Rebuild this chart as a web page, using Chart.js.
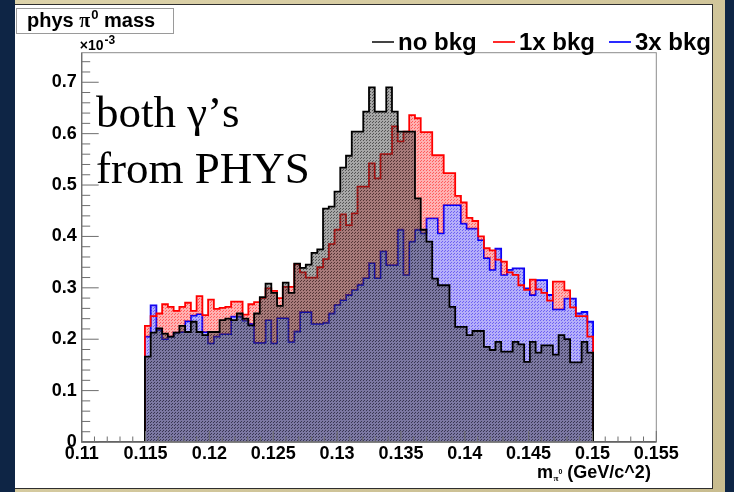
<!DOCTYPE html>
<html>
<head>
<meta charset="utf-8">
<script src="https://cdn.jsdelivr.net/npm/chart.js@4.4.1/dist/chart.umd.min.js"></script>
<style>
  html, body { margin: 0; padding: 0; }
  body { width: 734px; height: 492px; background: #0e2545; position: relative; overflow: hidden; }
  #mat { position: absolute; left: 15px; top: 0; width: 710px; height: 492px; background: linear-gradient(135deg, #ddd3aa, #c8bc8f); }
  #pad { position: absolute; left: 15px; top: 4px; width: 697px; height: 483px; background: #fff; border: 1px solid #2e2e2e; border-left: none; }
  #c { position: absolute; left: 0; top: 0; }
</style>
</head>
<body>
<div id="mat"></div>
<div id="pad"><canvas id="c" width="697" height="483"></canvas></div>
<script>
// pi0 mass histograms: 100 bins over 0.11-0.155 GeV/c^2, contents in units of 1e-3
const binLow = 0.11;
const binWidth = 0.00045;
const firstFilledBin = 11;

const noBkg = [
  0.166, 0.213, 0.221, 0.211, 0.205, 0.213, 0.226, 0.214, 0.234, 0.214,
  0.208, 0.214, 0.214, 0.237, 0.240, 0.237, 0.250, 0.240, 0.227, 0.250,
  0.282, 0.308, 0.290, 0.265, 0.310, 0.290, 0.347, 0.339, 0.345, 0.368,
  0.375, 0.454, 0.458, 0.487, 0.534, 0.557, 0.604, 0.604, 0.643, 0.690,
  0.643, 0.643, 0.690, 0.643, 0.604, 0.604, 0.604, 0.474, 0.413, 0.390,
  0.318, 0.305, 0.305, 0.263, 0.224, 0.224, 0.208, 0.216, 0.216, 0.185,
  0.179, 0.195, 0.176, 0.176, 0.195, 0.190, 0.156, 0.195, 0.174, 0.188,
  0.188, 0.170, 0.208, 0.200, 0.155, 0.155, 0.195, 0.174
];
const bkg1x = [
  0.226, 0.245, 0.250, 0.268, 0.263, 0.255, 0.263, 0.271, 0.255, 0.284,
  0.247, 0.277, 0.259, 0.261, 0.263, 0.273, 0.273, 0.248, 0.268, 0.272,
  0.280, 0.299, 0.294, 0.280, 0.302, 0.302, 0.346, 0.330, 0.320, 0.320,
  0.340, 0.356, 0.385, 0.413, 0.443, 0.422, 0.445, 0.497, 0.497, 0.542,
  0.513, 0.560, 0.560, 0.614, 0.585, 0.604, 0.636, 0.630, 0.603, 0.603,
  0.558, 0.558, 0.523, 0.523, 0.479, 0.466, 0.436, 0.430, 0.400, 0.377,
  0.373, 0.355, 0.351, 0.330, 0.325, 0.305, 0.296, 0.316, 0.297, 0.290,
  0.275, 0.312, 0.312, 0.295, 0.262, 0.245, 0.245, 0.205
];
const bkg3x = [
  0.205, 0.266, 0.218, 0.200, 0.205, 0.213, 0.214, 0.235, 0.246, 0.249,
  0.214, 0.192, 0.205, 0.210, 0.210, 0.244, 0.244, 0.236, 0.230, 0.193,
  0.193, 0.237, 0.192, 0.241, 0.241, 0.195, 0.215, 0.253, 0.253, 0.230,
  0.230, 0.232, 0.250, 0.267, 0.276, 0.286, 0.296, 0.306, 0.319, 0.348,
  0.319, 0.371, 0.344, 0.344, 0.413, 0.325, 0.390, 0.413, 0.406, 0.435,
  0.435, 0.406, 0.461, 0.461, 0.461, 0.425, 0.415, 0.415, 0.393, 0.358,
  0.335, 0.376, 0.325, 0.335, 0.338, 0.338, 0.299, 0.286, 0.315, 0.315,
  0.286, 0.258, 0.258, 0.279, 0.279, 0.250, 0.253, 0.234
];

const seriesNames = ['no bkg', '1x bkg', '3x bkg'];
const xTickLabels = ['0.11', '0.115', '0.12', '0.125', '0.13', '0.135', '0.14', '0.145', '0.15', '0.155'];
const yTickLabels = ['0', '0.1', '0.2', '0.3', '0.4', '0.5', '0.6', '0.7'];

const xTicks = xTickLabels.map(Number);
const yTicks = yTickLabels.map(Number);
const xMin = xTicks[0], xMax = xTicks[xTicks.length - 1];
const yMax = 0.7575;

const SANS = '"Liberation Sans", Arial, Helvetica, sans-serif';
const SERIF = '"Liberation Serif", "Times New Roman", serif';

// step outline points: one point per bin low edge, closed back down to zero
function histPoints(values) {
  const pts = [{ x: binLow, y: 0 }];
  values.forEach((v, i) => pts.push({ x: binLow + (firstFilledBin + i) * binWidth, y: v }));
  pts.push({ x: binLow + (firstFilledBin + values.length) * binWidth, y: 0 });
  pts.push({ x: xMax, y: 0 });
  return pts;
}

const canvas = document.getElementById('c');
const ctx = canvas.getContext('2d');

// translucent fill with a faint dot grain on top
function grainFill(r, g, b, a) {
  const tile = document.createElement('canvas');
  tile.width = 3; tile.height = 3;
  const t = tile.getContext('2d');
  t.fillStyle = `rgba(${r},${g},${b},${a})`;
  t.fillRect(0, 0, 3, 3);
  t.fillStyle = `rgba(${r},${g},${b},${Math.min(1, a + 0.25)})`;
  t.fillRect(0, 0, 1, 1);
  t.fillRect(1, 2, 1, 1);
  return ctx.createPattern(tile, 'repeat');
}
const fillBlack = grainFill(45, 45, 45, 0.42);
const fillRed = grainFill(255, 40, 40, 0.36);
const fillBlue = grainFill(70, 55, 240, 0.40);

function drawRuns(c, x, y, runs) {
  runs.forEach(r => {
    c.font = r.font;
    c.fillText(r.t, x + (r.dx || 0), y + (r.dy || 0));
    x += c.measureText(r.t).width + (r.dx || 0);
  });
  return x;
}

const rootStyle = {
  id: 'rootStyle',
  afterDatasetsDraw(chart) {
    const { ctx: c, chartArea: a, scales: { x, y } } = chart;
    c.save();
    // frame
    c.strokeStyle = '#8c8c8c';
    c.lineWidth = 1;
    c.strokeRect(a.left, a.top, a.right - a.left, a.bottom - a.top);
    c.strokeStyle = '#6e6e6e';
    c.lineWidth = 1.3;
    c.beginPath();
    c.moveTo(a.left, a.top); c.lineTo(a.left, a.bottom); c.lineTo(a.right, a.bottom);
    c.stroke();
    // tick marks pointing into the frame
    c.lineWidth = 1;
    c.beginPath();
    for (let i = 0; xMin + i * 0.001 <= xMax + 1e-9; i++) {
      const px = x.getPixelForValue(xMin + i * 0.001);
      const len = i % 5 === 0 ? 11 : 5.5;
      c.moveTo(px, a.bottom); c.lineTo(px, a.bottom - len);
    }
    for (let i = 0; i * 0.02 <= yMax; i++) {
      const py = y.getPixelForValue(i * 0.02);
      const len = i % 5 === 0 ? 17 : 8.5;
      c.moveTo(a.left, py); c.lineTo(a.left + len, py);
    }
    c.stroke();
    c.restore();
  },
  afterDraw(chart) {
    const { ctx: c, chartArea: a } = chart;
    c.save();
    c.textBaseline = 'alphabetic';

    // histogram title box
    c.fillStyle = '#fff';
    c.fillRect(1.5, 3.5, 157, 25);
    c.strokeStyle = '#9a9a9a';
    c.lineWidth = 1;
    c.strokeRect(1.5, 3.5, 157, 25);
    c.fillStyle = '#000';
    drawRuns(c, 12, 22, [
      { t: 'phys ', font: 'bold 20px ' + SANS },
      { t: 'π', font: 'bold 20px ' + SERIF },
      { t: '0', font: 'bold 13px ' + SANS, dy: -8, dx: 1 },
      { t: ' mass', font: 'bold 20px ' + SANS }
    ]);

    // axis exponent
    drawRuns(c, a.left - 2, 45, [
      { t: '×10', font: 'bold 14px ' + SANS },
      { t: '-3', font: 'bold 12px ' + SANS, dy: -6, dx: 1 }
    ]);

    // legend
    const legendColors = ['#444', '#ff2a2a', '#2a2aff'];
    const legendX = [357, 478, 594];
    c.lineWidth = 2;
    seriesNames.forEach((name, i) => {
      c.strokeStyle = legendColors[i];
      c.beginPath();
      c.moveTo(legendX[i], 37); c.lineTo(legendX[i] + 22, 37);
      c.stroke();
      c.font = 'bold 24px ' + SANS;
      c.fillText(name, legendX[i] + 26, 45);
    });

    // note on the plot
    c.font = '45px ' + SERIF;
    c.fillText('both γ’s', 81, 122);
    c.fillText('from PHYS', 81, 178);

    // x axis title
    drawRuns(c, 522, 473, [
      { t: 'm', font: 'bold 18px ' + SANS },
      { t: 'π', font: 'bold 9px ' + SERIF, dy: 3, dx: 0.5 },
      { t: '0', font: 'bold 7px ' + SANS, dy: -4 },
      { t: ' (GeV/c^2)', font: 'bold 18px ' + SANS }
    ]);
    c.restore();
  }
};

function histDataset(i, values, line, fill, order) {
  return {
    label: seriesNames[i],
    data: histPoints(values),
    borderColor: line,
    backgroundColor: line,
    borderWidth: 1.8,
    fill: fill,
    stepped: 'before',
    pointRadius: 0,
    order: order
  };
}

const tickFont = { family: SANS, size: 18, weight: 'bold' };

// draw order: 3x bkg first, then 1x bkg, no bkg shading laid on top
new Chart(ctx, {
  type: 'line',
  data: {
    datasets: [
      histDataset(0, noBkg, '#000000', { target: 'origin', above: fillBlack, below: fillBlack }, 1),
      // 1x bkg is shaded only where it rises above the 3x bkg curve
      histDataset(1, bkg1x, '#ff0000', { target: '+1', above: fillRed, below: 'rgba(0,0,0,0)' }, 2),
      histDataset(2, bkg3x, '#0000ff', { target: 'origin', above: fillBlue, below: fillBlue }, 3)
    ]
  },
  options: {
    responsive: false,
    animation: false,
    layout: { padding: { left: 0, top: 47.7, right: 55.7, bottom: 0 } },
    plugins: { legend: { display: false }, tooltip: { enabled: false } },
    scales: {
      x: {
        type: 'linear',
        min: xMin,
        max: xMax,
        grid: { display: false, drawTicks: false },
        border: { display: false },
        afterBuildTicks: s => { s.ticks = xTicks.map(v => ({ value: v })); },
        afterFit: s => { s.height = 46; },
        ticks: {
          autoSkip: false, maxRotation: 0, padding: 1, color: '#000', font: tickFont,
          callback: (v, i) => xTickLabels[i]
        }
      },
      y: {
        type: 'linear',
        min: 0,
        max: yMax,
        grid: { display: false, drawTicks: false },
        border: { display: false },
        afterBuildTicks: s => { s.ticks = yTicks.map(v => ({ value: v })); },
        afterFit: s => { s.width = 66.7; },
        ticks: {
          autoSkip: false, padding: 5, color: '#000', font: tickFont,
          callback: (v, i) => yTickLabels[i]
        }
      }
    }
  },
  plugins: [rootStyle]
});
</script>
</body>
</html>
